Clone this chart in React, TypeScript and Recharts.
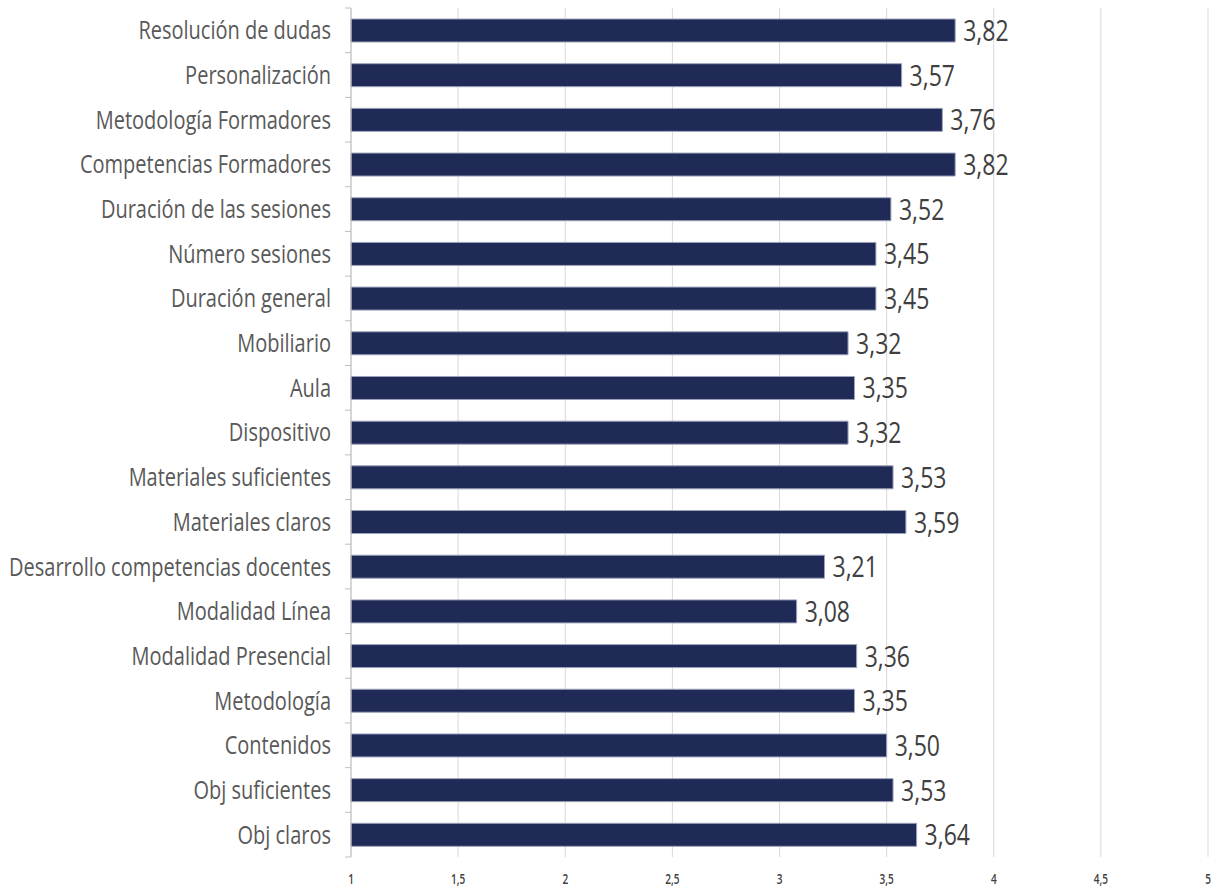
import React from 'react';
import { BarChart, Bar, XAxis, YAxis, CartesianGrid, LabelList } from 'recharts';

const categories = [
  'Resolución de dudas',
  'Personalización',
  'Metodología Formadores',
  'Competencias Formadores',
  'Duración de las sesiones',
  'Número sesiones',
  'Duración general',
  'Mobiliario',
  'Aula',
  'Dispositivo',
  'Materiales suficientes',
  'Materiales claros',
  'Desarrollo competencias docentes',
  'Modalidad Línea',
  'Modalidad Presencial',
  'Metodología',
  'Contenidos',
  'Obj suficientes',
  'Obj claros',
];

const scores = [3.82, 3.57, 3.76, 3.82, 3.52, 3.45, 3.45, 3.32, 3.35, 3.32, 3.53, 3.59, 3.21, 3.08, 3.36, 3.35, 3.5, 3.53, 3.64];

const xTicks = [1, 1.5, 2, 2.5, 3, 3.5, 4, 4.5, 5];

const data = categories.map((name, i) => ({ name, value: scores[i] }));

const fmt = (v: number) => String(v).replace('.', ',');
const fmt2 = (v: number) => v.toFixed(2).replace('.', ',');

const FONT = '"Open Sans", sans-serif';
const BAND = 849 / categories.length;

const CategoryTick = (props: any) => {
  const { x, y, payload, index } = props;
  return (
    <g>
      <line x1={x + 14} x2={x + 20} y1={y - BAND / 2} y2={y - BAND / 2} stroke="#bfbfbf" />
      {index === categories.length - 1 && (
        <line x1={x + 14} x2={x + 20} y1={y + BAND / 2} y2={y + BAND / 2} stroke="#bfbfbf" />
      )}
      <text
        transform={`translate(${x},${y}) scale(1,1.28)`}
        textAnchor="end"
        dy="0.35em"
        fill="#595959"
        fontFamily={FONT}
        fontSize={20}
      >
        {payload.value}
      </text>
    </g>
  );
};

const ValueTick = (props: any) => {
  const { x, y, payload } = props;
  return (
    <text
      transform={`translate(${x},${y + 14}) scale(1,1.4)`}
      textAnchor="middle"
      dy="0.35em"
      fill="#404040"
      fontFamily={FONT}
      fontSize={10}
      fontWeight={600}
    >
      {fmt(payload.value)}
    </text>
  );
};

const ValueLabel = (props: any) => {
  const { x, y, width, height, value } = props;
  return (
    <text
      transform={`translate(${x + width + 8},${y + height / 2}) scale(1,1.3)`}
      dy="0.35em"
      fill="#404040"
      fontFamily={FONT}
      fontSize={23}
    >
      {fmt2(value)}
    </text>
  );
};

export default function App() {
  return (
    <div style={{ position: 'absolute', left: 0, top: 0, background: '#fff' }}>
      <BarChart
        width={1214}
        height={893}
        data={data}
        layout="vertical"
        margin={{ top: 8, right: 6, bottom: 6, left: 0 }}
        barSize={23}
      >
        <CartesianGrid horizontal={false} stroke="#d9d9d9" />
        <XAxis
          type="number"
          domain={[1, 5]}
          ticks={xTicks}
          axisLine={false}
          tickLine={false}
          height={30}
          tick={<ValueTick />}
          interval={0}
        />
        <YAxis
          type="category"
          dataKey="name"
          width={351}
          axisLine={{ stroke: '#bfbfbf' }}
          tickLine={false}
          tickSize={0}
          tickMargin={20}
          interval={0}
          tick={<CategoryTick />}
        />
        <Bar dataKey="value" fill="#202a56" stroke="#9da2ba" strokeWidth={1} isAnimationActive={false}>
          <LabelList dataKey="value" content={<ValueLabel />} />
        </Bar>
      </BarChart>
    </div>
  );
}
